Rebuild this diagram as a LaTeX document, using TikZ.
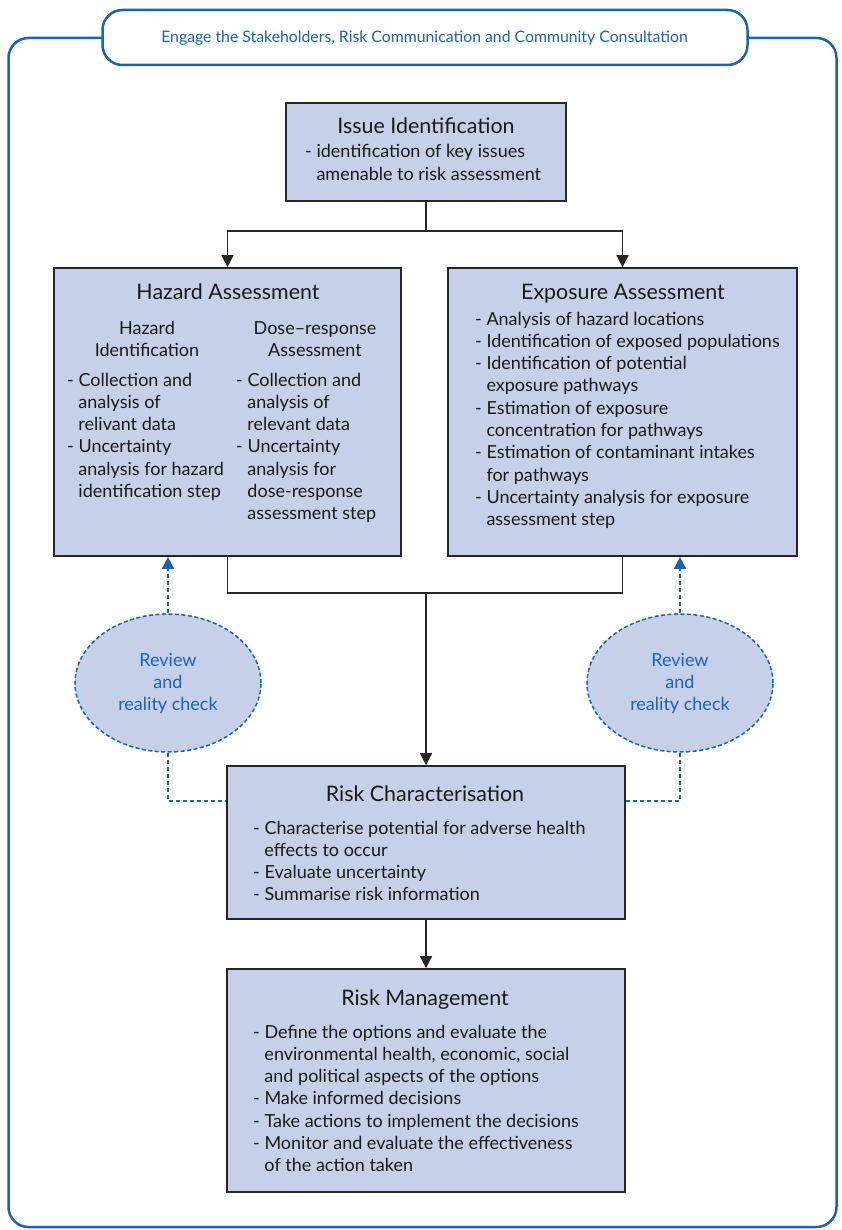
\documentclass[tikz,border=0pt]{standalone}
\usepackage{fontspec}
\setmainfont{Lato}
\usetikzlibrary{arrows.meta,shapes.geometric}
\definecolor{boxfill}{RGB}{198,208,232}
\definecolor{rblue}{RGB}{24,100,178}
\definecolor{edge}{RGB}{38,38,38}
\newcommand{\linesL}[1]{\begin{tabular}[t]{@{}l@{}}#1\end{tabular}}
\newcommand{\linesC}[1]{\begin{tabular}[t]{@{}c@{}}#1\end{tabular}}
\newcommand{\ind}{\hphantom{- }}
\begin{document}
\begin{tikzpicture}[x=1pt,y=-1pt,
  box/.style={draw=edge, fill=boxfill, line width=1.7pt, inner sep=0pt},
  ttl/.style={font=\fontsize{21.4}{25}\selectfont, anchor=base, inner sep=0pt, text=black!90},
  bodytext/.style={font=\fontsize{18}{22.3}\selectfont, anchor=base west, inner sep=0pt, text=black!90},
  subhead/.style={font=\fontsize{18}{22.3}\selectfont, anchor=base, inner sep=0pt, text=black!90},
  conn/.style={draw=edge, line width=1.6pt},
  arr/.style={conn, -{Triangle[length=12pt,width=12pt]}},
  revbox/.style={ellipse, draw=rblue, fill=boxfill, line width=1.5pt, dash pattern=on 4pt off 2.5pt,
     minimum width=186pt, minimum height=138pt, inner sep=0pt, align=center,
     font=\fontsize{18}{22}\selectfont, text=rblue},
  dline/.style={draw=rblue, line width=1.6pt, dash pattern=on 4.5pt off 2.5pt},
  darr/.style={dline, -{Triangle[length=12pt,width=12pt]}},
  frameline/.style={draw=rblue, line width=2.5pt, rounded corners=20pt, inner sep=0pt}
]
\useasboundingbox (0,0) rectangle (842,1230);

% outer frame and header
\node[frameline, minimum width=828pt, minimum height=1189pt] (frame) at (422.5,632.5) {};
\node[frameline, fill=white, minimum width=645pt, minimum height=55pt] (hdr) at (425,37.5) {};
\node[anchor=base, inner sep=0pt, font=\fontsize{15.8}{18}\selectfont, text=rblue] (hdrtext) at (424.5,43)
  {Engage the Stakeholders, Risk Communication and Community Consultation};

% boxes
\node[box, minimum width=280pt, minimum height=98pt] (iss) at (426,152) {};
\node[box, minimum width=347pt, minimum height=288pt] (haz) at (227.5,412) {};
\node[box, minimum width=349pt, minimum height=288pt] (exp) at (622.5,412) {};
\node[box, minimum width=398pt, minimum height=153pt] (rc) at (426,842.5) {};
\node[box, minimum width=398pt, minimum height=223pt] (rm) at (426,1080.5) {};

% review ellipses
\node[revbox] (revL) at (168,683) {Review\\and\\reality check};
\node[revbox] (revR) at (680,683) {Review\\and\\reality check};

% texts
\node[ttl] (issT) at (426,134) {Issue Identification};
\node[bodytext] (issB) at (305,158) {\linesL{- identification of key issues\\\ind amenable to risk assessment}};

\node[ttl] (hazT) at (228,300) {Hazard Assessment};
\node[subhead] (hazS1) at (147,334) {\linesC{Hazard\\Identification}};
\node[subhead] (hazS2) at (315,334) {\linesC{Dose–response\\Assessment}};
\node[bodytext] (hazB1) at (67,386) {\linesL{- Collection and\\\ind analysis of\\\ind relivant data\\- Uncertainty\\\ind analysis for hazard\\\ind identification step}};
\node[bodytext] (hazB2) at (236,386) {\linesL{- Collection and\\\ind analysis of\\\ind relevant data\\- Uncertainty\\\ind analysis for\\\ind dose-response\\\ind assessment step}};

\node[ttl] (expT) at (623,300) {Exposure Assessment};
\node[bodytext] (expB) at (475,325) {\linesL{- Analysis of hazard locations\\- Identification of exposed populations\\- Identification of potential\\\ind exposure pathways\\- Estimation of exposure\\\ind concentration for pathways\\- Estimation of contaminant intakes\\\ind for pathways\\- Uncertainty analysis for exposure\\\ind assessment step}};

\node[ttl] (rcT) at (425,801) {Risk Characterisation};
\node[bodytext] (rcB) at (253,834) {\linesL{- Characterise potential for adverse health\\\ind effects to occur\\- Evaluate uncertainty\\- Summarise risk information}};

\node[ttl] (rmT) at (425,1005) {Risk Management};
\node[bodytext] (rmB) at (253,1038) {\linesL{- Define the options and evaluate the\\\ind environmental health, economic, social\\\ind and political aspects of the options\\- Make informed decisions\\- Take actions to implement the decisions\\- Monitor and evaluate the effectiveness\\\ind of the action taken}};

% connectors
\coordinate (j1) at (426,231);
\coordinate (j2) at (426,593);
\draw[conn] (iss.south) -- (j1);
\draw[arr] (j1) -| (haz.north);
\draw[arr] (j1) -| (exp.north);
\draw[conn] (haz.south) |- (j2) -| (exp.south);
\draw[arr] (j2) -- (rc.north);
\draw[arr] (rc.south) -- (rm.north);

% review connectors
\coordinate (dL) at (226,801);
\coordinate (dR) at (626,801);
\draw[darr] (revL.north) -- (revL.north |- haz.south);
\draw[darr] (revR.north) -- (revR.north |- exp.south);
\draw[dline] (revL.south) |- (dL);
\draw[dline] (revR.south) |- (dR);
\end{tikzpicture}
\end{document}
